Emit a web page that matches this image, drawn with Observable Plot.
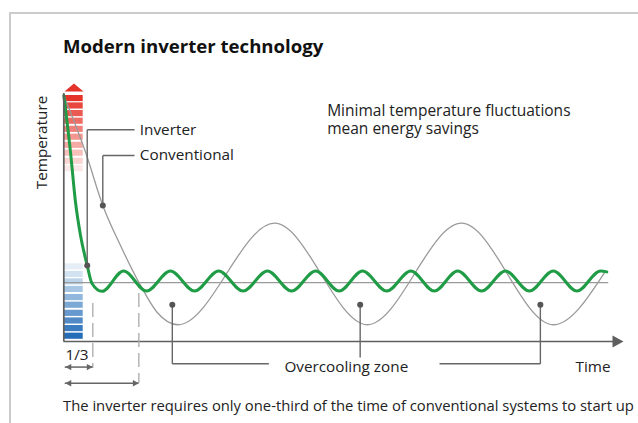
<!DOCTYPE html>
<html><head><meta charset="utf-8">
<script src="https://cdn.jsdelivr.net/npm/d3@7"></script>
<script src="https://cdn.jsdelivr.net/npm/@observablehq/plot@0.6"></script>
<style>
html,body{margin:0;padding:0;background:#fff;width:638px;height:423px;overflow:hidden;font-family:"Open Sans",sans-serif;}
#frame{position:absolute;left:9px;top:12px;width:700px;height:500px;border-left:2px solid #cbcbcb;border-top:2px solid #cbcbcb;}
#title{position:absolute;left:63px;top:34.6px;font-size:18.6px;font-weight:700;line-height:1.2;color:#111;white-space:nowrap;margin:0;}
#chart{position:absolute;left:0;top:70px;width:638px;}
#caption{position:absolute;left:63px;top:397.4px;font-size:14.8px;line-height:1.2;color:#222;white-space:nowrap;}
</style></head>
<body>
<div id="frame"></div>
<h1 id="title">Modern inverter technology</h1>
<div id="chart"></div>
<div id="caption">The inverter requires only one-third of the time of conventional systems to start up</div>
<script>
// ---- data (time units, relative temperature units) ----
const inverterTime = [0, 1.4, 2.45, 3.5, 4.9, 5.9, 8.0, 12.5, 17.3, 22.3, 27.35, 32.4, 37.5, 42.6, 47.65, 52.7, 57.6, 62.5, 67.55, 72.6, 77.5, 82.4, 87.4, 92.4, 97.4, 102.4, 107.35, 112.3, 113.6];
const inverterTemp = [100, 77, 56.6, 43.1, 30.9, 23.6, 20.4, 28.7, 20.5, 28.7, 20.5, 28.7, 20.5, 28.7, 20.5, 28.7, 20.5, 28.7, 20.5, 28.7, 20.5, 28.7, 20.5, 28.7, 20.5, 28.7, 20.5, 28.7, 28.3];
const conventionalTime = [0, 4.54, 8.16, 11.86, 16.05, 19.5, 23.9, 44.1, 63.5, 83.2, 102.4, 113.3];
const conventionalTemp = [100, 77, 55.3, 39.0, 22.8, 11.9, 6.8, 48.1, 6.8, 48.1, 6.8, 28.5];
const setpoint = 23.9;
const timeMax = 115;

const heatTops = [100, 97.0, 93.9, 90.8, 87.5, 84.3, 81.0, 77.8, 74.5, 71.5];
const heatColors = ["#e53329", "#e8473d", "#eb5a51", "#ee6d65", "#f0817a", "#f3968f", "#f5aaa5", "#f8bfbb", "#fad4d1", "#fce9e7"];
const coolTops = [31.6, 28.5, 25.5, 22.4, 19.1, 16.0, 12.7, 9.6, 6.5, 3.4];
const coolColors = ["#e5eef7", "#d2e2f1", "#bcd4ea", "#a7c6e3", "#91b7dc", "#7ca8d5", "#6699ce", "#518ac7", "#3b7cc0", "#256db9"];
const barSpan = [0.15, 4.06];
const barH = 2.5;

const inverterStart = 6.07;     // inverter start-up time
const conventionalStart = 15.7; // conventional start-up time
const spanRows = [
  {start: inverterStart, y: -10.4, top: 15.4, bottom: -11},
  {start: conventionalStart, y: -16.95, top: 19.5, bottom: -17.1}
];

const inverterDot = [4.9, 30.9];
const conventionalDot = [8.16, 55.3];
const labelY = {Inverter: 86.1, Conventional: 75.6};
const labelX = 15.9, leaderEnd = 14.8;
const noteLines = ["Minimal temperature fluctuations", "mean energy savings"];
const noteY = [93.5, 86.5];
const overcoolX = [22.7, 62.0, 99.7];
const overcoolY = 14.9;
const overcoolLineY = -9.07;

// ---- build tables ----
const inverter = inverterTime.map((t, i) => ({t, v: inverterTemp[i]}));
const conventional = conventionalTime.map((t, i) => ({t, v: conventionalTemp[i]}));
const bars = [
  ...heatTops.map((top, i) => ({top, color: heatColors[i]})),
  ...coolTops.map((top, i) => ({top, color: coolColors[i]}))
];
const leaders = [
  {x1: inverterDot[0], y1: inverterDot[1], x2: inverterDot[0], y2: labelY.Inverter},
  {x1: inverterDot[0], y1: labelY.Inverter, x2: leaderEnd, y2: labelY.Inverter},
  {x1: conventionalDot[0], y1: conventionalDot[1], x2: conventionalDot[0], y2: labelY.Conventional},
  {x1: conventionalDot[0], y1: labelY.Conventional, x2: leaderEnd, y2: labelY.Conventional},
  {x1: overcoolX[0], y1: overcoolY, x2: overcoolX[0], y2: overcoolLineY},
  {x1: overcoolX[1], y1: overcoolY, x2: overcoolX[1], y2: -6.5},
  {x1: overcoolX[2], y1: overcoolY, x2: overcoolX[2], y2: overcoolLineY},
  {x1: overcoolX[0], y1: overcoolLineY, x2: 42.9, y2: overcoolLineY},
  {x1: 78.6, y1: overcoolLineY, x2: overcoolX[2], y2: overcoolLineY}
];
const dots = [inverterDot, conventionalDot, ...overcoolX.map(x => [x, overcoolY])];
const notes = noteLines.map((t, i) => ({t, y: noteY[i]}));

const upTri = {draw(c){c.moveTo(-9.5,4);c.lineTo(0,-4);c.lineTo(9.5,4);c.closePath();}};
const rightTri = {draw(c){c.moveTo(-5.5,-6);c.lineTo(5.5,0);c.lineTo(-5.5,6);c.closePath();}};
const headR = {draw(c){c.moveTo(-6,-3.2);c.lineTo(0,0);c.lineTo(-6,3.2);c.closePath();}};
const headL = {draw(c){c.moveTo(6,-3.2);c.lineTo(0,0);c.lineTo(6,3.2);c.closePath();}};

const font = "'Open Sans', sans-serif";
const fs = 15.3;

const chart = Plot.plot({
  width: 638, height: 320,
  marginLeft: 63.3, marginRight: 25, marginTop: 25, marginBottom: 49,
  x: {domain: [0, timeMax], axis: null},
  y: {domain: [0, 100], axis: null},
  color: {type: "identity"},
  style: {fontFamily: font, fontSize: fs + "px", background: "transparent", overflow: "visible"},
  marks: [
    Plot.rect(bars, {x1: barSpan[0], x2: barSpan[1], y1: d => d.top - barH, y2: "top", fill: "color"}),
    Plot.dot([[2.13, 103.25]], {symbol: upTri, fill: "#e53329", stroke: "none"}),
    Plot.ruleY([setpoint], {x1: 0, x2: 114, stroke: "#9a9a9a", strokeWidth: 1.2}),
    Plot.line(conventional, {x: "t", y: "v", curve: "monotone-x", stroke: "#9a9a9a", strokeWidth: 1.3}),
    Plot.line(inverter, {x: "t", y: "v", curve: "monotone-x", stroke: "#1f9c45", strokeWidth: 3}),
    Plot.ruleX([0], {y1: 0, y2: 100.8, stroke: "#5f5f5f", strokeWidth: 1.7}),
    Plot.ruleY([0], {x1: 0, x2: 115, stroke: "#5f5f5f", strokeWidth: 1.7}),
    Plot.dot([[115.94, 0]], {symbol: rightTri, fill: "#5f5f5f", stroke: "none"}),
    Plot.ruleX(spanRows, {x: "start", y1: "top", y2: "bottom", stroke: "#aaa", strokeWidth: 1.3, strokeDasharray: "14,6"}),
    Plot.ruleY(spanRows, {y: "y", x1: 0.3, x2: "start", stroke: "#666", strokeWidth: 1.5}),
    Plot.dot(spanRows, {x: 0.3, y: "y", symbol: headL, fill: "#666", stroke: "none"}),
    Plot.dot(spanRows, {x: "start", y: "y", symbol: headR, fill: "#666", stroke: "none"}),
    Plot.link(leaders, {x1: "x1", y1: "y1", x2: "x2", y2: "y2", stroke: "#666", strokeWidth: 1.4}),
    Plot.dot(dots, {x: d => d[0], y: d => d[1], r: 3, fill: "#555", stroke: "none"}),
    Plot.text(["Inverter", "Conventional"], {x: labelX, y: d => labelY[d], text: d => d, textAnchor: "start", fill: "#222", fontSize: fs}),
    Plot.text(notes, {x: 55.1, y: "y", text: "t", textAnchor: "start", fill: "#222", fontSize: 15.5}),
    Plot.text(["1/3"], {x: 0.35, y: -5.65, text: d => d, textAnchor: "start", fill: "#222", fontSize: fs}),
    Plot.text(["Overcooling zone"], {x: 59.1, y: -10.4, text: d => d, fill: "#222", fontSize: fs}),
    Plot.text(["Time"], {x: 114.4, y: -10.4, text: d => d, textAnchor: "end", fill: "#222", fontSize: fs}),
    Plot.text(["Temperature"], {x: -4.56, y: 80.9, text: d => d, rotate: -90, fill: "#222", fontSize: fs})
  ]
});
document.getElementById("chart").appendChild(chart);
</script>
</body></html>
